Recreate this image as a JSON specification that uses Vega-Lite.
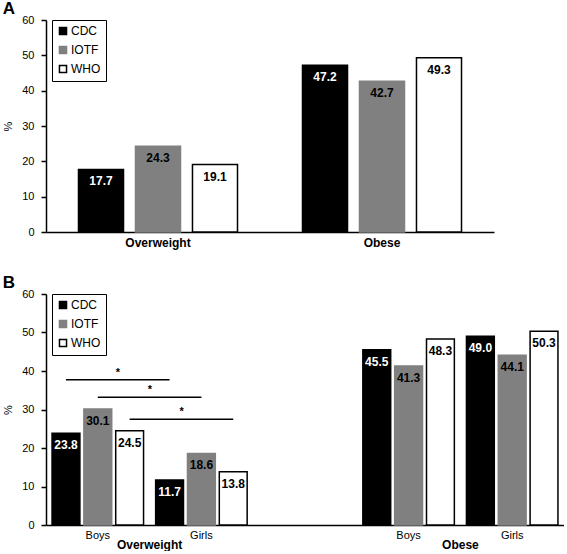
{
  "$schema": "https://vega.github.io/schema/vega-lite/v6.json",
  "padding": {"left": 2, "top": 0, "right": 0, "bottom": 0},
  "spacing": 26,
  "resolve": {
    "scale": {"xOffset": "independent", "fill": "independent", "stroke": "independent"},
    "legend": {"fill": "independent", "stroke": "independent"}
  },
  "config": {
    "font": "Liberation Sans",
    "view": {"stroke": null},
    "axis": {"grid": false, "domainColor": "black", "domainWidth": 1.5, "tickColor": "black", "tickWidth": 1.5, "labelColor": "black", "labelFontSize": 11, "titleColor": "black", "titleFontWeight": "normal", "titleFontSize": 11},
    "legend": {"orient": "none", "legendX": 6, "legendY": 0, "symbolType": "square", "symbolSize": 50, "symbolStrokeWidth": 1.5, "labelFontSize": 12, "labelColor": "black", "strokeColor": "black", "padding": 5, "rowPadding": 5, "labelOffset": 2, "fillColor": "white"},
    "title": {"anchor": "start", "frame": "bounds", "fontSize": 17, "fontWeight": "bold", "color": "black", "offset": -4}
  },
  "datasets": {
    "a": [
      {"weight": "Overweight", "method": "CDC", "value": 17.7},
      {"weight": "Overweight", "method": "IOTF", "value": 24.3},
      {"weight": "Overweight", "method": "WHO", "value": 19.1},
      {"weight": "Obese", "method": "CDC", "value": 47.2},
      {"weight": "Obese", "method": "IOTF", "value": 42.7},
      {"weight": "Obese", "method": "WHO", "value": 49.3}
    ],
    "b": [
      {"group": "Overweight Boys", "weight": "Overweight", "sex": "Boys", "method": "CDC", "value": 23.8},
      {"group": "Overweight Boys", "weight": "Overweight", "sex": "Boys", "method": "IOTF", "value": 30.1},
      {"group": "Overweight Boys", "weight": "Overweight", "sex": "Boys", "method": "WHO", "value": 24.5},
      {"group": "Overweight Girls", "weight": "Overweight", "sex": "Girls", "method": "CDC", "value": 11.7},
      {"group": "Overweight Girls", "weight": "Overweight", "sex": "Girls", "method": "IOTF", "value": 18.6},
      {"group": "Overweight Girls", "weight": "Overweight", "sex": "Girls", "method": "WHO", "value": 13.8},
      {"group": "Obese Boys", "weight": "Obese", "sex": "Boys", "method": "CDC", "value": 45.5},
      {"group": "Obese Boys", "weight": "Obese", "sex": "Boys", "method": "IOTF", "value": 41.3},
      {"group": "Obese Boys", "weight": "Obese", "sex": "Boys", "method": "WHO", "value": 48.3},
      {"group": "Obese Girls", "weight": "Obese", "sex": "Girls", "method": "CDC", "value": 49.0},
      {"group": "Obese Girls", "weight": "Obese", "sex": "Girls", "method": "IOTF", "value": 44.1},
      {"group": "Obese Girls", "weight": "Obese", "sex": "Girls", "method": "WHO", "value": 50.3}
    ],
    "sig": [
      {"comparison": "CDC", "group": "Overweight Boys", "method": "CDC", "value": 37.7},
      {"comparison": "CDC", "group": "Overweight Girls", "method": "CDC", "value": 37.7},
      {"comparison": "IOTF", "group": "Overweight Boys", "method": "IOTF", "value": 33.2},
      {"comparison": "IOTF", "group": "Overweight Girls", "method": "IOTF", "value": 33.2},
      {"comparison": "WHO", "group": "Overweight Boys", "method": "WHO", "value": 27.5},
      {"comparison": "WHO", "group": "Overweight Girls", "method": "WHO", "value": 27.5}
    ],
    "star": [
      {"group": "Overweight Boys", "method": "CDC", "value": 37.7, "mark": "*"},
      {"group": "Overweight Boys", "method": "IOTF", "value": 33.2, "mark": "*"},
      {"group": "Overweight Boys", "method": "WHO", "value": 27.5, "mark": "*"}
    ],
    "cats": [
      {"group": "Overweight Boys", "weight": "Overweight", "value": 0},
      {"group": "Obese Boys", "weight": "Obese", "value": 0}
    ]
  },
  "vconcat": [
    {
      "title": {"text": "A"},
      "width": 448,
      "height": 212,
      "data": {"name": "a"},
      "encoding": {
        "x": {"field": "weight", "type": "nominal", "scale": {"domain": ["Overweight", "Obese"], "paddingInner": 0, "paddingOuter": 0}, "axis": {"title": null, "labelAngle": 0, "ticks": false, "labelFontWeight": "bold", "labelFontSize": 12, "labelPadding": 5}},
        "xOffset": {"field": "method", "type": "nominal", "scale": {"domain": ["CDC", "IOTF", "WHO"], "paddingInner": 0.21, "paddingOuter": 0.57}},
        "y": {"field": "value", "type": "quantitative", "scale": {"domain": [0, 60]}, "axis": {"values": [0, 10, 20, 30, 40, 50, 60], "title": "%", "tickSize": 5, "labelPadding": 7, "titlePadding": 8}}
      },
      "layer": [
        {
          "mark": {"type": "bar", "strokeWidth": 1.5},
          "encoding": {
            "fill": {"field": "method", "type": "nominal", "scale": {"domain": ["CDC", "IOTF", "WHO"], "range": ["#000000", "#808080", "#ffffff"]}, "legend": {"title": null}},
            "stroke": {"field": "method", "type": "nominal", "scale": {"domain": ["CDC", "IOTF", "WHO"], "range": ["#000000", "#808080", "#000000"]}, "legend": {"title": null}}
          }
        },
        {
          "mark": {"type": "text", "baseline": "top", "dy": 7, "fontWeight": "bold", "fontSize": 12},
          "encoding": {
            "text": {"field": "value", "type": "quantitative", "format": ".1f"},
            "color": {"condition": {"test": "datum.method === 'CDC'", "value": "white"}, "value": "black"}
          }
        }
      ]
    },
    {
      "title": {"text": "B"},
      "width": 518,
      "height": 231,
      "encoding": {
        "y": {"field": "value", "type": "quantitative", "scale": {"domain": [0, 60]}, "axis": {"values": [0, 10, 20, 30, 40, 50, 60], "title": "%", "tickSize": 5, "labelPadding": 7, "titlePadding": 8}}
      },
      "layer": [
        {
          "data": {"name": "b"},
          "encoding": {
            "x": {"field": "group", "type": "nominal", "scale": {"domain": ["Overweight Boys", "Overweight Girls", "gap", "Obese Boys", "Obese Girls"], "paddingInner": 0, "paddingOuter": 0}, "axis": {"title": null, "labelAngle": 0, "ticks": false, "labelPadding": 4, "labelFontSize": 11, "labelExpr": "datum.value == 'gap' ? '' : split(datum.value, ' ')[1]"}},
            "xOffset": {"field": "method", "type": "nominal", "scale": {"domain": ["CDC", "IOTF", "WHO"], "paddingInner": 0.125, "paddingOuter": 0.19}}
          },
          "layer": [
            {
              "mark": {"type": "bar", "strokeWidth": 1.5},
              "encoding": {
                "fill": {"field": "method", "type": "nominal", "scale": {"domain": ["CDC", "IOTF", "WHO"], "range": ["#000000", "#808080", "#ffffff"]}, "legend": {"title": null}},
                "stroke": {"field": "method", "type": "nominal", "scale": {"domain": ["CDC", "IOTF", "WHO"], "range": ["#000000", "#808080", "#000000"]}, "legend": {"title": null}}
              }
            },
            {
              "mark": {"type": "text", "baseline": "top", "dy": 7, "fontWeight": "bold", "fontSize": 12},
              "encoding": {
                "text": {"field": "value", "type": "quantitative", "format": ".1f"},
                "color": {"condition": {"test": "datum.method === 'CDC'", "value": "white"}, "value": "black"}
              }
            }
          ]
        },
        {
          "data": {"name": "sig"},
          "mark": {"type": "line", "color": "black", "strokeWidth": 1.5},
          "encoding": {
            "x": {"field": "group", "type": "nominal"},
            "xOffset": {"field": "method", "type": "nominal"},
            "detail": {"field": "comparison", "type": "nominal"}
          }
        },
        {
          "data": {"name": "star"},
          "mark": {"type": "text", "dx": 52, "dy": -7, "fontSize": 11, "fontWeight": "bold", "color": "black"},
          "encoding": {
            "x": {"field": "group", "type": "nominal"},
            "xOffset": {"field": "method", "type": "nominal"},
            "text": {"field": "mark", "type": "nominal"}
          }
        },
        {
          "data": {"name": "cats"},
          "mark": {"type": "text", "baseline": "top", "dy": 15, "fontSize": 12, "fontWeight": "bold", "color": "black"},
          "encoding": {
            "x": {"field": "group", "type": "nominal", "bandPosition": 1},
            "text": {"field": "weight", "type": "nominal"}
          }
        }
      ]
    }
  ]
}
